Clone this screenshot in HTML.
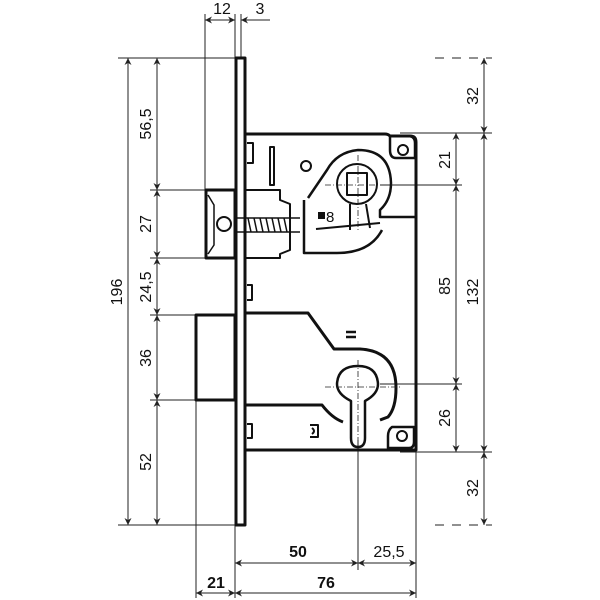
<!DOCTYPE html>
<html><head><meta charset="utf-8"><style>body{margin:0;background:#fff}svg{display:block}</style></head>
<body>
<svg width="600" height="600" viewBox="0 0 600 600" xmlns="http://www.w3.org/2000/svg" font-family="Liberation Sans, sans-serif">
<defs>
<marker id="a" viewBox="0 0 10 10" refX="10" refY="5" markerWidth="9" markerHeight="7" orient="auto-start-reverse" markerUnits="userSpaceOnUse"><path d="M0,0 L10,5 L0,10 L3,5 Z" fill="#222"/></marker>
</defs>
<g stroke="#222" stroke-width="1" fill="none">
<line x1="118" y1="58" x2="235" y2="58"/>
<line x1="118" y1="525" x2="235" y2="525"/>
<line x1="150" y1="190" x2="210" y2="190"/>
<line x1="150" y1="258" x2="210" y2="258"/>
<line x1="150" y1="315" x2="196" y2="315"/>
<line x1="150" y1="400" x2="196" y2="400"/>
<line x1="205" y1="14" x2="205" y2="190"/>
<line x1="235" y1="14" x2="235" y2="58"/>
<line x1="241" y1="14" x2="241" y2="58"/>
<line x1="196" y1="400" x2="196" y2="598"/>
<line x1="235" y1="525" x2="235" y2="598"/>
<line x1="416" y1="452" x2="416" y2="598"/>
<line x1="358" y1="440" x2="358" y2="570"/>
<line x1="400" y1="133" x2="492" y2="133"/>
<line x1="380" y1="185" x2="462" y2="185"/>
<line x1="380" y1="384" x2="462" y2="384"/>
<line x1="400" y1="452" x2="492" y2="452"/>
<line x1="435" y1="58" x2="492" y2="58" stroke-dasharray="9,8"/>
<line x1="435" y1="525" x2="492" y2="525" stroke-dasharray="9,8"/>
<line x1="128" y1="58" x2="128" y2="525" marker-start="url(#a)" marker-end="url(#a)"/>
<line x1="157" y1="58" x2="157" y2="190" marker-start="url(#a)" marker-end="url(#a)"/>
<line x1="157" y1="190" x2="157" y2="258" marker-start="url(#a)" marker-end="url(#a)"/>
<line x1="157" y1="258" x2="157" y2="315" marker-start="url(#a)" marker-end="url(#a)"/>
<line x1="157" y1="315" x2="157" y2="400" marker-start="url(#a)" marker-end="url(#a)"/>
<line x1="157" y1="400" x2="157" y2="525" marker-start="url(#a)" marker-end="url(#a)"/>
<line x1="484" y1="58" x2="484" y2="133" marker-start="url(#a)" marker-end="url(#a)"/>
<line x1="484" y1="133" x2="484" y2="452" marker-start="url(#a)" marker-end="url(#a)"/>
<line x1="484" y1="452" x2="484" y2="525" marker-start="url(#a)" marker-end="url(#a)"/>
<line x1="456" y1="133" x2="456" y2="185" marker-start="url(#a)" marker-end="url(#a)"/>
<line x1="456" y1="185" x2="456" y2="384" marker-start="url(#a)" marker-end="url(#a)"/>
<line x1="456" y1="384" x2="456" y2="452" marker-start="url(#a)" marker-end="url(#a)"/>
<line x1="205" y1="20" x2="235" y2="20" marker-start="url(#a)" marker-end="url(#a)"/>
<line x1="270" y1="20" x2="241" y2="20" marker-end="url(#a)"/>
<line x1="235" y1="563" x2="358" y2="563" marker-start="url(#a)" marker-end="url(#a)"/>
<line x1="358" y1="563" x2="416" y2="563" marker-start="url(#a)" marker-end="url(#a)"/>
<line x1="196" y1="593" x2="235" y2="593" marker-start="url(#a)" marker-end="url(#a)"/>
<line x1="235" y1="593" x2="416" y2="593" marker-start="url(#a)" marker-end="url(#a)"/>
</g>
<g stroke="#111" stroke-width="3" fill="none" stroke-linejoin="round">
<rect x="236" y="58" width="9" height="467" fill="#fff"/>
<path d="M246,134 H385 Q388,134 390,136 L410,136 Q416,136 416,142 V450 H246"/>
<path d="M206,190 H235 V258 H206 Z"/>
<path d="M208,195 L214,205 L214,245 L208,254" stroke-width="1.5"/>
<circle cx="224" cy="224" r="7" stroke-width="2"/>
<path d="M246,190 H280 V200 L290,204 V250 L280,254 V258 H246" stroke-width="2"/>
<path d="M236,218 H300 M236,232 H300" stroke-width="1.5"/>
<path d="M248,218 l3,14 m3,-14 l3,14 m3,-14 l3,14 m3,-14 l3,14 m3,-14 l3,14 m3,-14 l3,14 m3,-14 l3,14" stroke-width="1.5"/>
<rect x="196" y="315" width="39" height="85"/>
<!-- upper follower -->
<path d="M308,198 L327,170 Q337,152 358,150 Q390,150 391,183 Q391,200 380,210 V217 H416" stroke-width="2.5"/>
<path d="M304,200 V253 H337 Q370,253 382,230" stroke-width="2.5"/>
<circle cx="357" cy="184" r="20" stroke-width="2"/>
<rect x="347" y="173" width="20" height="22" stroke-width="2"/>
<path d="M350,204 L350,230 M366,204 L370,228" stroke-width="2"/>
<path d="M316,229 L380,223" stroke-width="2"/>
<circle cx="306" cy="166" r="5" stroke-width="2"/>
<rect x="270" y="147" width="4" height="38" stroke-width="2"/>
<path d="M247,143 h6 v20 h-6" stroke-width="2"/>
<path d="M390,136 H408 Q415,136 415,143 V158 H396 Q390,158 390,150 Z" stroke-width="2.5"/>
<circle cx="403" cy="150" r="5" stroke-width="2"/>
<!-- lower cam -->
<path d="M246,313 H308 L334,349 H360 Q396,351 396,388 Q396,408 388,417 L380,420"/>
<path d="M246,405 H322 Q332,418 343,422"/>
<path d="M351,401 Q337,394 337,384 Q338,366 358,366 Q377,366 378,384 Q378,394 365,401 V438 Q365,447 358,447 Q351,447 351,438 Z" stroke-width="2.5"/>
<path d="M392,427 Q388,430 388,436 V448 H409 Q414,448 414,442 V427 Z" stroke-width="2.5"/>
<circle cx="402" cy="436" r="5" stroke-width="2"/>
<path d="M310,425 h8 v12 h-8 M312,428 q4,3 0,6" stroke-width="2"/>
<path d="M346,332 h10 M346,337 h10" stroke-width="2.5"/>
<path d="M247,285 h5 v15 h-5 M247,424 h5 v14 h-5" stroke-width="2"/>
</g>
<g stroke="#222" stroke-width="0.8" stroke-dasharray="6,2,1,2" fill="none">
<line x1="358" y1="155" x2="358" y2="232"/><line x1="325" y1="185" x2="400" y2="185"/>
<line x1="358" y1="360" x2="358" y2="448"/><line x1="325" y1="387" x2="400" y2="387"/>
</g>
<rect x="318" y="212" width="7" height="7" fill="#111"/>
<text x="326" y="222" font-size="15" fill="#111">8</text>
<g font-size="16" fill="#111" text-anchor="middle">
<text x="222" y="14">12</text><text x="260" y="14">3</text>
<text x="298" y="557" font-weight="bold">50</text><text x="389" y="557">25,5</text>
<text x="216" y="588" font-weight="bold">21</text><text x="326" y="588" font-weight="bold">76</text>
<text transform="translate(122,292) rotate(-90)">196</text>
<text transform="translate(151,124) rotate(-90)">56,5</text>
<text transform="translate(151,224) rotate(-90)">27</text>
<text transform="translate(151,287) rotate(-90)">24,5</text>
<text transform="translate(151,358) rotate(-90)">36</text>
<text transform="translate(151,462) rotate(-90)">52</text>
<text transform="translate(478,96) rotate(-90)">32</text>
<text transform="translate(478,292) rotate(-90)">132</text>
<text transform="translate(478,488) rotate(-90)">32</text>
<text transform="translate(450,160) rotate(-90)">21</text>
<text transform="translate(450,286) rotate(-90)">85</text>
<text transform="translate(450,418) rotate(-90)">26</text>
</g>
</svg>
</body></html>
